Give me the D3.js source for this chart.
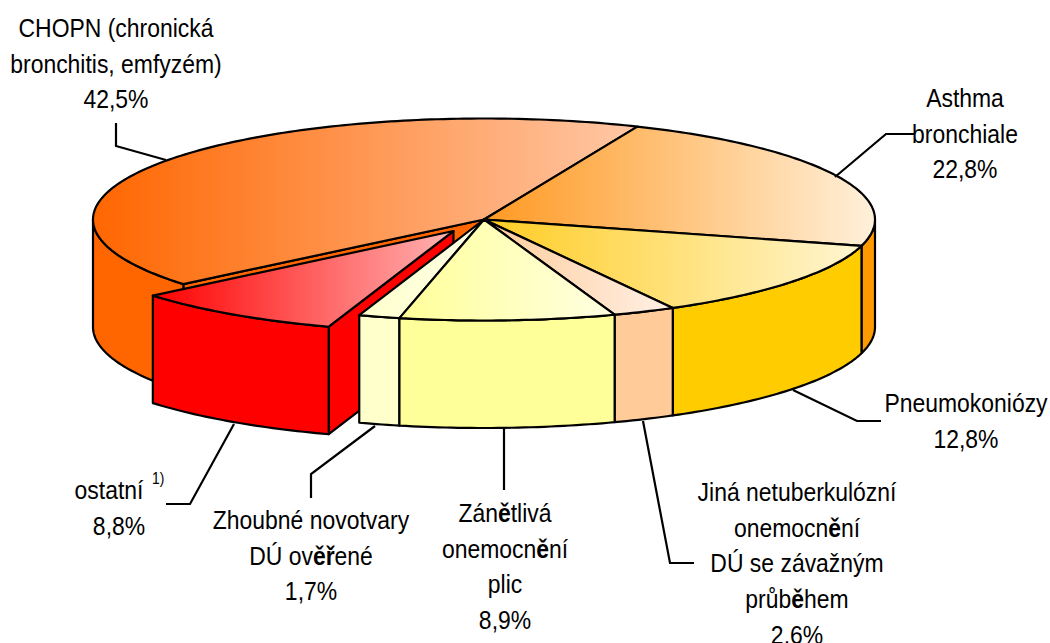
<!DOCTYPE html>
<html><head><meta charset="utf-8">
<script src="https://cdn.jsdelivr.net/npm/d3@7/dist/d3.min.js"></script>
<style>html,body{margin:0;padding:0;background:#fff;overflow:hidden}svg{display:block}
text{font-family:"Liberation Sans",Arial,sans-serif;fill:#000}</style></head><body>
<svg id="c" width="1050" height="643"></svg>
<script>
// Data
const categories = ["Asthma bronchiale","Pneumokoniózy","Jiná netuberkulózní onemocnění DÚ se závažným průběhem","Zánětlivá onemocnění plic","Zhoubné novotvary DÚ ověřené","ostatní","CHOPN (chronická bronchitis, emfyzém)"];
const values = [22.8,12.8,2.6,8.9,1.7,8.8,42.5];
const explode = [0,0,0,0,0,54,0];
const wallColors = ["#FF9900","#FFCC00","#FFCC99","#FFFF99","#FFFFCC","#FF0000","#FF6600"];
const topFrom = ["#FF9922","#FFCC22","#FFCC99","#FFFF99","#FFFFCC","#FF0000","#FF6600"];
const topTo = ["#FFF0DA","#FFF6D2","#FFF0E6","#FFFFE2","#FFFFE8","#FFB4B4","#FFC8A6"];
const labelLines = [
 ["Asthma","bronchiale","22,8%"],["Pneumokoniózy","12,8%"],
 ["Jiná netuberkulózní","onemocnění","DÚ se závažným","průběhem","2,6%"],
 ["Zánětlivá","onemocnění","plic","8,9%"],["Zhoubné novotvary","DÚ ověřené","1,7%"],
 ["ostatní","8,8%"],["CHOPN (chronická","bronchitis, emfyzém)","42,5%"]];
// Layout
const labelPos = [[965,107],[966,412],[797,501],[505,522],[311,529],[119,499],[116,37]];
const lineNudge = {"ostatní":-10};
const labelStep = 35.7;
const leaders = [
 [[835,177],[886,134],[914,134]],[[793,390],[857,421],[881,421]],
 [[643,421],[670,563],[694,563]],[[504,428],[504,490]],
 [[375,426],[311,474],[311,498]],[[234,424],[190,504],[166,504]],
 [[116,123],[116,146],[166,160]]];
const cx=484,cy=219.5,rx=391,ry=101,depth=107.5,sw=2.2;
const svg=d3.select("#c"),defs=svg.append("defs");
const rad=d=>d*Math.PI/180;
const pie=d3.pie().sort(null).startAngle(rad(23.1)).endAngle(rad(383.1));
const arcs=pie(values);
const sx=d3.scaleLinear().domain([-1,1]).range([cx-rx,cx+rx]);
const sy=d3.scaleLinear().domain([-1,1]).range([cy-ry,cy+ry]);
const offset=(d,i)=>{const m=(d.startAngle+d.endAngle)/2,e=explode[i]/rx;
  return [sx(Math.sin(m)*e)-cx, sy(-Math.cos(m)*e)-cy];};
const pt=(a,o,dz=0)=>[sx(Math.sin(a))+o[0],sy(-Math.cos(a))+o[1]+dz];
const ctr=(o,dz=0)=>[cx+o[0],cy+o[1]+dz];
const line=d3.line();
const rim=(a0,a1,o,dz=0)=>{const n=Math.max(2,Math.ceil((a1-a0)/rad(1)));
  return d3.range(n+1).map(k=>pt(a0+(a1-a0)*k/n,o,dz));};

categories.forEach((c,i)=>{
 const g=defs.append("linearGradient").attr("id","g"+i);
 g.append("stop").attr("offset",0).attr("stop-color",topFrom[i]);
 g.append("stop").attr("offset",1).attr("stop-color",topTo[i]);
});
const pieG=svg.append("g").attr("stroke","#000").attr("stroke-width",sw).attr("stroke-linejoin","round");
const shape=(pts,fill)=>pieG.append("path").attr("d",line(pts)+"Z").attr("fill",fill);

function drawSlice(i,cutStart){
 const d=arcs[i],o=offset(d,i),a0=d.startAngle,a1=d.endAngle;
 if(cutStart){ // flat cut face along the starting edge
  shape([ctr(o),pt(a0,o),pt(a0,o,depth),ctr(o,depth)],wallColors[i]);
 }
 // outer wall, only the front half (90..270 deg)
 const w0=Math.max(a0,rad(90)),w1=Math.min(a1,rad(270));
 if(w1>w0) shape(rim(w0,w1,o).concat(rim(w0,w1,o,depth).reverse()),wallColors[i]);
 shape([ctr(o)].concat(rim(a0,a1,o)),`url(#g${i})`);
}
// painter's order: back first, exploded slice under its front neighbours
[[6,true],[0,false],[5,true],[1,false],[2,false],[4,false],[3,false]].forEach(p=>drawSlice(p[0],p[1]));

// leaders
svg.append("g").selectAll("path").data(leaders).join("path")
 .attr("d",d=>line(d)).attr("fill","none").attr("stroke","#000").attr("stroke-width",2.2);

// labels
const fs=26.5,squeeze=0.866;
labelLines.forEach((lines,i)=>{
 lines.forEach((t,k)=>{
  const x=labelPos[i][0]+(lineNudge[t]||0),y=labelPos[i][1]+k*labelStep;
  const el=svg.append("text").attr("font-size",fs)
    .attr("text-anchor","middle").attr("transform",`translate(${x},${y}) scale(${squeeze},1)`);
  t.split(/([ěř])/).forEach(s=>{ if(s) el.append("tspan").text(s).attr("font-weight",/^[ěř]$/.test(s)?"bold":null); });
 });
});
svg.append("text").attr("font-size",16).attr("transform",`translate(152,484) scale(${squeeze},1)`).text("1)");
</script></body></html>
